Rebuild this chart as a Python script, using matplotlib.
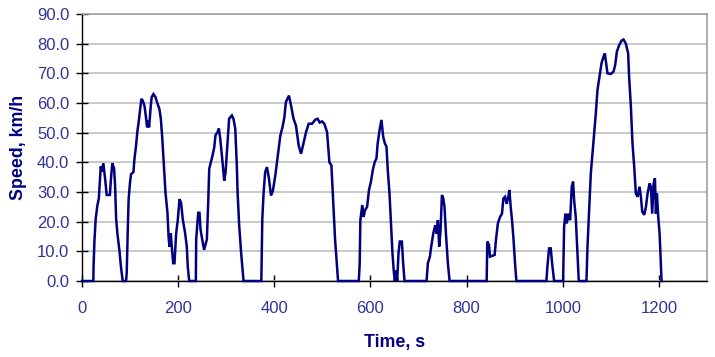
import matplotlib
matplotlib.use("Agg")
import matplotlib.pyplot as plt

plt.rcParams['font.family'] = ['Liberation Sans', 'DejaVu Sans']

time_s = [0, 23.6, 24, 26, 28.5, 32, 35, 37, 39, 41, 44.4, 48, 51.4, 58, 60, 63, 66.7, 68.75, 71, 73.6, 77.8, 81, 84.7,
          91.7, 93, 95, 97, 100, 102, 107, 109, 112.5, 115, 118.75, 121, 123.6, 126.4, 130, 132.6, 135.4, 137.5, 139.6,
          143, 145, 148.6, 152.8, 157, 161, 164, 167, 170, 173.6, 177.8, 180, 182, 184.7, 186.8, 189.6, 192.4, 195.8,
          199.3, 202.8, 206, 209.7, 214.6, 218, 220, 223,
          236.8, 237.5, 241.7, 244.4, 246.5, 250, 254, 259.7, 262.5, 264.6, 268, 271.5, 275, 277.8, 282, 284.7, 287.5,
          291, 295.8, 298.6, 301.4, 306, 311.8, 315, 318.75, 322, 323.6, 327, 331, 336,
          373, 375, 377.8, 381, 384.7, 389, 393, 397, 402, 405.5, 409, 412.5, 417, 421, 424, 430.5, 435, 440, 445,
          450.7, 455.5, 459.7, 466, 471.5, 478.5, 485.4, 490, 494.4, 499.3, 504, 509.7, 514.6, 518.75, 521.5, 526.4,
          532.6,
          575.7, 577.6, 579, 583, 585.8, 588.5, 593, 597, 601, 604.9, 609, 612.5, 615, 619.4, 622.9, 626.4, 629.9,
          633.3, 636, 639.6, 643, 645.8, 648.6, 650.7, 653.5, 655.6, 658.3, 661, 665.3, 668, 670.8,
          716.7, 719.4, 723.6, 726.4, 730.6, 734.7, 737.5, 740.3, 743, 745.8, 748.6, 751.4, 754, 757, 761, 764.6,
          841.7, 843, 846.5, 848.6, 858.3, 861, 865, 869.6, 873.6, 876.4, 879.9, 883.3, 886.8, 888.9, 891.7, 894.4,
          897.2, 900.7, 903.5,
          966, 968, 971.5, 975, 977.8, 982,
          1000.7, 1002.8, 1005.6, 1008.3, 1011.8, 1015.3, 1018.7, 1021.5, 1023.6, 1027, 1030.6, 1033.3,
          1049.3, 1051.4, 1054.9, 1058.3, 1061.8, 1065.3, 1068.75, 1072.2, 1076.4, 1080.6, 1084.7, 1087.5, 1090.3,
          1093, 1100, 1105.6, 1109, 1112.5, 1117.4, 1122.2, 1126.4, 1131.25, 1136, 1138, 1141.7, 1145, 1148.6, 1152,
          1155.6, 1159.7, 1162.5, 1165.3, 1169.4, 1173, 1176.4, 1180.6, 1183.3, 1186, 1189, 1191.7, 1193.75, 1195.8,
          1198.6, 1201.4, 1204, 1205.5]

speed_kmh = [0, 0, 4.8, 14, 21, 25.5, 27.8, 33, 38.6, 36.9, 39.7, 34.6, 29, 29, 34, 39.7, 38, 32.4, 21, 16, 10.4, 4.8, 0,
             0, 2.6, 16, 27.7, 33.4, 36, 36.7, 41, 45.7, 50.2, 54.7, 58, 61.4, 60.8, 59, 55.8, 51.8, 54, 51.8,
             59, 62, 63, 62, 59.8, 58, 54.7, 48, 40, 29.9, 23, 15, 11.5, 16, 11.5, 6, 6, 16,
             20.7, 27.6, 26.4, 20.7, 16, 11.5, 4.8, 0,
             0, 14, 23, 23, 17.4, 14, 10.5, 14, 26.4, 37.8, 40, 42.3, 45, 49.2, 50.2, 51.4, 48,
             42.3, 33.8, 36.6, 43.4, 54.7, 55.8, 54.7, 51.4, 39, 29.9, 18.6, 9.5, 0,
             0, 20.7, 30, 36.7, 38.4, 34.4, 28.8, 30.4, 35.5, 40, 44.5, 49, 51.8, 55.2, 60.3, 62.5, 59, 54.7, 52.4,
             45.7, 42.9, 45.7, 50.2, 53, 53, 54.4, 54.7, 53.4, 53.8, 53, 50.2, 40, 39, 29.9, 14,
             0,
             0, 5.8, 20.5, 25.6, 21.6, 23.8, 25, 30.7, 33.5, 37.4, 40.2, 41.3, 46.4, 51.4, 54.3, 48.7, 46.4,
             45.3, 37.4, 29.5, 18.3, 9.3, 3.1, 0, 3.5, 0, 9.3, 13.3, 13.3, 6, 0,
             0, 6, 8.2, 11.6, 16, 18.8, 16, 20.5, 11.6, 17.2, 29, 27.9, 25, 16, 6, 0,
             0, 13.3, 12.2, 8.2, 8.8, 13.8, 19.4, 21.6, 22.7, 27.8, 28.4, 26, 28.4, 30.7, 25, 20.5,
             14.9, 6, 0,
             0, 4.8, 11, 11, 6, 0,
             0, 18.3, 22.7, 19.4, 22.7, 20.5, 31.8, 33.5, 27.3, 21.6, 9.3, 0,
             0, 11.6, 23.8, 36.2, 43, 49.8, 56.5, 64.4, 68.8, 73.4, 75.6, 76.7, 73.4,
             70, 69.8, 70.6, 72.8, 77.3, 79.5, 81, 81.4, 80, 76.7, 68.8, 58.7, 46.4, 38.5, 29.5,
             28.4, 31.8, 28.4, 23.4, 22.3, 25, 29.5, 32.9, 31.8, 22.7, 32.9, 34.6, 22.7, 29.5,
             21.6, 16, 6, 0]

x_ticks = [0, 200, 400, 600, 800, 1000, 1200]
y_ticks = [0, 10, 20, 30, 40, 50, 60, 70, 80, 90]
x_label = "Time, s"
y_label = "Speed, km/h"

fig = plt.figure(figsize=(7.15, 3.57), dpi=100)
ax = fig.add_axes([82 / 715, 1 - 281 / 357, (707 - 82) / 715, (281 - 14) / 357])

ax.plot(time_s, speed_kmh, color='#000080', linewidth=1.8, solid_joinstyle='miter', zorder=3, clip_on=False)

ax.set_xlim(0, 1300)
ax.set_ylim(0, 90)
ax.set_xticks(x_ticks)
ax.set_yticks(y_ticks)
ax.set_yticklabels([f"{v:.1f}" for v in y_ticks])
ax.yaxis.grid(True, color='#c0c0c0', linewidth=1.2, zorder=0)
ax.set_axisbelow(True)

for s in ['top', 'right']:
    ax.spines[s].set_color('#a0a0a0')
    ax.spines[s].set_linewidth(1.2)
for s in ['left', 'bottom']:
    ax.spines[s].set_color('#000000')
    ax.spines[s].set_linewidth(1.0)

ax.tick_params(axis='both', direction='inout', length=8.5, width=1, color='#000000',
               labelsize=12, labelcolor='#333399')
ax.tick_params(axis='y', pad=5)
ax.tick_params(axis='x', pad=10)

ax.set_xlabel(x_label, fontsize=12.8, fontweight='bold', color='#000080', labelpad=13)
ax.set_ylabel(y_label, fontsize=12.8, fontweight='bold', color='#000080', labelpad=7)

fig.savefig('out.png', dpi=100)
